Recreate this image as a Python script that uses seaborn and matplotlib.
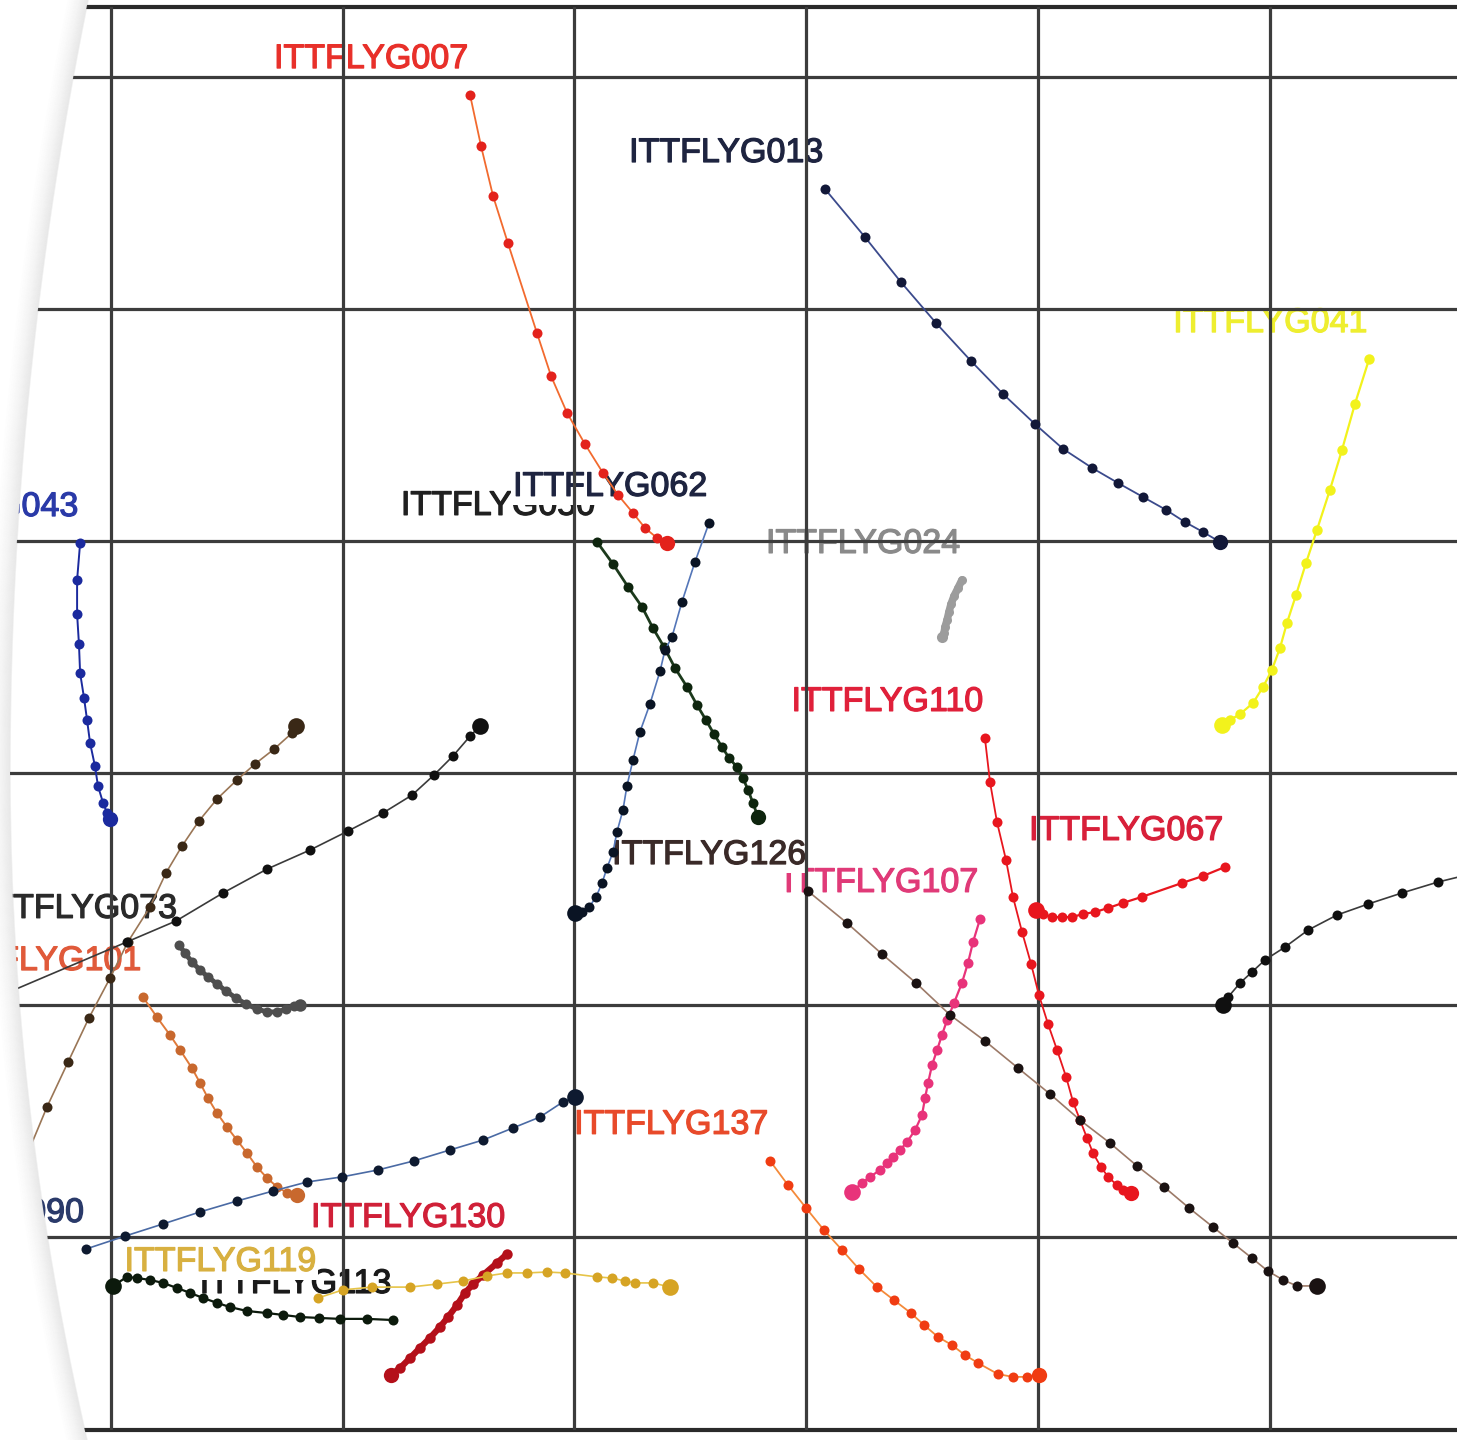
import numpy as np
import pandas as pd
import matplotlib
matplotlib.use("Agg")
import matplotlib.pyplot as plt
import matplotlib.patheffects as pe
from matplotlib.patches import Polygon
from matplotlib.lines import Line2D
import seaborn as sns

sns.set_theme(style="white")
plt.rcParams["font.family"] = ["Liberation Sans", "DejaVu Sans"]

# Drifter positions in grid-cell units (x eastward, y southward from the first grid row)
g007_x = [1.550, 1.597, 1.649, 1.713, 1.838, 1.899, 1.968, 2.045, 2.123, 2.188, 2.252, 2.304, 2.356, 2.399]
g007_y = [0.078, 0.297, 0.513, 0.716, 1.103, 1.289, 1.448, 1.582, 1.707, 1.802, 1.879, 1.944, 1.987, 2.009]

g013_x = [3.080, 3.252, 3.407, 3.558, 3.709, 3.847, 3.985, 4.106, 4.231, 4.343, 4.450, 4.550, 4.631, 4.709, 4.782]
g013_y = [0.483, 0.690, 0.884, 1.060, 1.224, 1.366, 1.496, 1.603, 1.685, 1.750, 1.810, 1.866, 1.918, 1.961, 2.004]

g041_x = [5.425, 5.364, 5.308, 5.256, 5.200, 5.153, 5.110, 5.071, 5.041, 5.006, 4.968, 4.925, 4.869, 4.825, 4.791]
g041_y = [1.216, 1.409, 1.608, 1.780, 1.953, 2.095, 2.233, 2.353, 2.461, 2.556, 2.629, 2.698, 2.746, 2.772, 2.793]

g043_x = [-0.131, -0.144, -0.144, -0.136, -0.131, -0.114, -0.101, -0.088, -0.067, -0.054, -0.032, -0.015, -0.002]
g043_y = [2.009, 2.168, 2.315, 2.444, 2.569, 2.677, 2.772, 2.871, 2.970, 3.056, 3.129, 3.172, 3.198]

g050_x = [2.097, 2.166, 2.231, 2.291, 2.338, 2.386, 2.433, 2.485, 2.528, 2.567, 2.601, 2.636, 2.666, 2.700, 2.726, 2.748, 2.769, 2.791]
g050_y = [2.004, 2.099, 2.198, 2.284, 2.375, 2.457, 2.547, 2.629, 2.707, 2.772, 2.832, 2.888, 2.935, 2.974, 3.022, 3.073, 3.129, 3.190]

g062_x = [2.580, 2.519, 2.463, 2.420, 2.390, 2.369, 2.325, 2.282, 2.252, 2.226, 2.209, 2.183, 2.166, 2.140, 2.119, 2.093, 2.063, 2.032, 2.002]
g062_y = [1.922, 2.091, 2.263, 2.414, 2.470, 2.560, 2.703, 2.823, 2.944, 3.056, 3.159, 3.254, 3.341, 3.409, 3.474, 3.534, 3.578, 3.599, 3.603]

g024_x = [3.670, 3.653, 3.636, 3.623, 3.614, 3.606, 3.597, 3.593, 3.584]
g024_y = [2.168, 2.203, 2.237, 2.272, 2.306, 2.341, 2.371, 2.397, 2.414]

g110_x = [3.769, 3.791, 3.821, 3.860, 3.890, 3.929, 3.968, 4.002, 4.041, 4.080, 4.119, 4.149, 4.179, 4.209, 4.235, 4.269, 4.300, 4.338, 4.364, 4.399]
g110_y = [2.849, 3.039, 3.211, 3.375, 3.534, 3.685, 3.823, 3.957, 4.082, 4.194, 4.310, 4.418, 4.496, 4.573, 4.638, 4.698, 4.741, 4.776, 4.797, 4.810]

g067_x = [4.804, 4.709, 4.619, 4.446, 4.364, 4.300, 4.244, 4.192, 4.144, 4.101, 4.058, 4.019, 3.989]
g067_y = [3.405, 3.444, 3.474, 3.534, 3.560, 3.582, 3.599, 3.608, 3.621, 3.621, 3.621, 3.608, 3.591]

g107_x = [3.748, 3.718, 3.696, 3.670, 3.636, 3.606, 3.584, 3.563, 3.541, 3.524, 3.511, 3.498, 3.468, 3.433, 3.403, 3.373, 3.347, 3.317, 3.274, 3.239, 3.196]
g107_y = [3.629, 3.728, 3.819, 3.905, 3.991, 4.065, 4.129, 4.194, 4.259, 4.336, 4.401, 4.474, 4.539, 4.591, 4.625, 4.655, 4.681, 4.711, 4.741, 4.767, 4.806]

g126_x = [3.006, 3.175, 3.325, 3.472, 3.619, 3.769, 3.912, 4.050, 4.179, 4.308, 4.425, 4.541, 4.649, 4.752, 4.838, 4.920, 4.989, 5.054, 5.114, 5.200]
g126_y = [3.509, 3.647, 3.780, 3.905, 4.043, 4.155, 4.272, 4.384, 4.496, 4.595, 4.694, 4.784, 4.875, 4.957, 5.026, 5.091, 5.147, 5.185, 5.211, 5.211]

g073_x = [0.295, 0.321, 0.351, 0.386, 0.420, 0.459, 0.498, 0.541, 0.584, 0.631, 0.675, 0.718, 0.756, 0.791, 0.817]
g073_y = [3.741, 3.776, 3.815, 3.849, 3.879, 3.909, 3.940, 3.970, 3.996, 4.017, 4.030, 4.030, 4.017, 4.004, 4.000]

g101_x = [0.140, 0.200, 0.256, 0.300, 0.351, 0.386, 0.420, 0.459, 0.502, 0.545, 0.588, 0.631, 0.675, 0.718, 0.761, 0.804]
g101_y = [3.966, 4.052, 4.129, 4.194, 4.272, 4.336, 4.401, 4.466, 4.526, 4.582, 4.638, 4.698, 4.746, 4.784, 4.810, 4.819]

g090_x = [-0.106, 0.063, 0.226, 0.386, 0.545, 0.700, 0.847, 0.998, 1.153, 1.308, 1.463, 1.606, 1.735, 1.851, 1.950, 2.002]
g090_y = [5.052, 4.996, 4.944, 4.892, 4.845, 4.802, 4.763, 4.741, 4.711, 4.672, 4.625, 4.582, 4.530, 4.483, 4.418, 4.397]

g130_x = [1.709, 1.666, 1.606, 1.563, 1.528, 1.494, 1.455, 1.420, 1.377, 1.334, 1.291, 1.248, 1.209]
g130_y = [5.073, 5.112, 5.164, 5.203, 5.241, 5.293, 5.345, 5.388, 5.435, 5.478, 5.522, 5.565, 5.595]

g119_x = [0.894, 1.002, 1.127, 1.291, 1.407, 1.519, 1.623, 1.709, 1.795, 1.881, 1.959, 2.097, 2.162, 2.218, 2.261, 2.338, 2.412]
g119_y = [5.263, 5.228, 5.216, 5.216, 5.203, 5.190, 5.168, 5.155, 5.155, 5.151, 5.155, 5.172, 5.177, 5.190, 5.198, 5.198, 5.216]

g113_x = [1.218, 1.106, 0.989, 0.899, 0.817, 0.744, 0.675, 0.588, 0.515, 0.459, 0.399, 0.343, 0.287, 0.226, 0.170, 0.114, 0.071, 0.011]
g113_y = [5.358, 5.353, 5.353, 5.349, 5.345, 5.336, 5.328, 5.319, 5.302, 5.284, 5.263, 5.241, 5.220, 5.198, 5.185, 5.177, 5.172, 5.211]

g137_x = [2.843, 2.920, 2.998, 3.075, 3.153, 3.226, 3.304, 3.377, 3.450, 3.506, 3.567, 3.627, 3.683, 3.739, 3.825, 3.890, 3.950, 4.002]
g137_y = [4.672, 4.776, 4.875, 4.970, 5.056, 5.138, 5.216, 5.272, 5.328, 5.379, 5.431, 5.466, 5.509, 5.543, 5.591, 5.603, 5.603, 5.595]

# Tracks whose names fall outside the sheet
trackA_x = [-0.369, -0.274, -0.183, -0.093, -0.002, 0.075, 0.170, 0.239, 0.308, 0.381, 0.459, 0.545, 0.623, 0.705, 0.782, 0.800]
trackA_y = [4.668, 4.440, 4.246, 4.056, 3.884, 3.728, 3.578, 3.431, 3.315, 3.207, 3.112, 3.030, 2.961, 2.897, 2.828, 2.797]

trackB_x = [-0.498, 0.071, 0.282, 0.485, 0.675, 0.860, 1.024, 1.175, 1.300, 1.394, 1.476, 1.550, 1.593]
trackB_y = [3.970, 3.728, 3.638, 3.517, 3.414, 3.332, 3.250, 3.172, 3.095, 3.009, 2.927, 2.841, 2.797]

trackC_x = [5.881, 5.722, 5.567, 5.420, 5.287, 5.162, 5.063, 4.976, 4.920, 4.869, 4.817, 4.795]
trackC_y = [3.431, 3.470, 3.517, 3.565, 3.612, 3.677, 3.750, 3.806, 3.858, 3.905, 3.966, 4.000]

tracks = [
    ("ITTFLYG007", g007_x, g007_y),
    ("ITTFLYG013", g013_x, g013_y),
    ("ITTFLYG041", g041_x, g041_y),
    ("ITTFLYG043", g043_x, g043_y),
    ("ITTFLYG050", g050_x, g050_y),
    ("ITTFLYG062", g062_x, g062_y),
    ("ITTFLYG024", g024_x, g024_y),
    ("ITTFLYG110", g110_x, g110_y),
    ("ITTFLYG067", g067_x, g067_y),
    ("ITTFLYG107", g107_x, g107_y),
    ("ITTFLYG126", g126_x, g126_y),
    ("ITTFLYG101", g101_x, g101_y),
    ("ITTFLYG073", g073_x, g073_y),
    ("ITTFLYG090", g090_x, g090_y),
    ("ITTFLYG137", g137_x, g137_y),
    ("ITTFLYG130", g130_x, g130_y),
    ("ITTFLYG113", g113_x, g113_y),
    ("ITTFLYG119", g119_x, g119_y),
    ("track_a", trackA_x, trackA_y),
    ("track_b", trackB_x, trackB_y),
    ("track_c", trackC_x, trackC_y),
]

# dot colour, line colour, line width, dot size, end-dot size
STYLE = {
    "ITTFLYG007": ("#e3221c", "#f26a2e", 1.3, 7.2, 11),
    "ITTFLYG013": ("#121838", "#3b4a8c", 1.3, 7.2, 11),
    "ITTFLYG041": ("#f2f21c", "#f2f21c", 1.6, 7.5, 12),
    "ITTFLYG043": ("#1b2a9e", "#1b2a9e", 1.4, 7.2, 11),
    "ITTFLYG050": ("#0e250e", "#1c3a1c", 2.0, 7.2, 11),
    "ITTFLYG062": ("#0a1424", "#5476b8", 1.2, 7.2, 12),
    "ITTFLYG024": ("#9c9c9c", "#9c9c9c", 5.5, 6.5, 8),
    "ITTFLYG110": ("#e8161e", "#e8161e", 1.3, 7.2, 11),
    "ITTFLYG067": ("#e8161e", "#e8161e", 1.6, 7.2, 12),
    "ITTFLYG107": ("#e8337a", "#e8337a", 1.6, 7.2, 12),
    "ITTFLYG126": ("#1a1212", "#9c7a68", 1.2, 7.2, 12),
    "ITTFLYG101": ("#c8682e", "#e07a3a", 1.4, 7.2, 11),
    "ITTFLYG073": ("#4e4e4e", "#4e4e4e", 3.5, 7.2, 9),
    "ITTFLYG090": ("#0e1a30", "#4a6aa4", 1.2, 7.2, 12),
    "ITTFLYG137": ("#f03c12", "#f48a3a", 1.3, 7.2, 11),
    "ITTFLYG130": ("#b4101a", "#b4101a", 4.5, 7.5, 11),
    "ITTFLYG113": ("#0c1a0c", "#0c1a0c", 1.6, 7.2, 12),
    "ITTFLYG119": ("#d6a424", "#e6c448", 1.2, 7.2, 12),
    "track_a": ("#3a2816", "#9a7656", 1.2, 7.2, 12),
    "track_b": ("#101010", "#3a3a3a", 1.2, 7.2, 12),
    "track_c": ("#101010", "#3a3a3a", 1.2, 7.2, 12),
}

LABEL_COLOR = {
    "ITTFLYG007": "#e8302a", "ITTFLYG013": "#1e2440", "ITTFLYG041": "#eeee30",
    "ITTFLYG043": "#2a3aa8", "ITTFLYG050": "#202020", "ITTFLYG062": "#1e2440",
    "ITTFLYG024": "#8a8a8a", "ITTFLYG110": "#e0203a", "ITTFLYG067": "#d8203a",
    "ITTFLYG107": "#e03a78", "ITTFLYG126": "#3a2a28", "ITTFLYG101": "#e05a3a",
    "ITTFLYG073": "#2a2a2a", "ITTFLYG090": "#2a3a6a", "ITTFLYG137": "#e84a2a",
    "ITTFLYG130": "#d02038", "ITTFLYG113": "#1a1a1a", "ITTFLYG119": "#d8b040",
}

frames = [pd.DataFrame({"track": n, "step": range(len(x)), "x": x, "y": y}) for n, x, y in tracks]
df = pd.concat(frames, ignore_index=True)

W, H = 1457, 1440
fig = plt.figure(figsize=(W / 100, H / 100), dpi=100)
fig.patch.set_facecolor("white")
ax = fig.add_axes([0, 10 / H, 1, 1423.5 / H])
ax.set_facecolor("white")

for i, (name, _, _) in enumerate(tracks):
    d = df[df["track"] == name]
    dot, line, lw, ms, end = STYLE[name]
    z = 3 + 0.01 * i
    sns.lineplot(data=d, x="x", y="y", sort=False, estimator=None, color=line,
                 lw=lw, ax=ax, zorder=z, legend=False)
    sns.scatterplot(data=d.iloc[:-1], x="x", y="y", color=dot, s=ms ** 2,
                    linewidth=0, ax=ax, zorder=z + 0.001, legend=False)
    sns.scatterplot(data=d.iloc[-1:], x="x", y="y", color=dot, s=end ** 2,
                    linewidth=0, ax=ax, zorder=z + 0.002, legend=False)
    if name in LABEL_COLOR:
        col = LABEL_COLOR[name]
        ax.annotate(name, xy=(d["x"].iloc[0], d["y"].iloc[0]), xytext=(-1.5, 19.5),
                    textcoords="offset points", ha="right", va="baseline",
                    fontsize=24.5, color=col,
                    bbox=dict(boxstyle="square,pad=0.05", fc="white", ec="none"),
                    path_effects=[pe.withStroke(linewidth=0.9, foreground=col)],
                    zorder=2 + 0.01 * i, annotation_clip=False)

ax.set_xlim(-0.4763, 5.8039)
ax.set_ylim(5.832, -0.304)
ax.set_xticks(range(6))
ax.set_yticks(range(6))
ax.tick_params(length=0, labelbottom=False, labelleft=False)
ax.set_xlabel("")
ax.set_ylabel("")
ax.grid(True, color="#3c3c3c", lw=2.3)
ax.set_axisbelow(False)
for side in ("left", "right"):
    ax.spines[side].set_visible(False)
for side in ("top", "bottom"):
    ax.spines[side].set_color("#2a2a2a")
    ax.spines[side].set_linewidth(3.0)

# curled page edge on the left side of the sheet, with its soft shading
yy = np.linspace(0, H, 400)
edge = np.where(yy < 770, 10 + 1.316e-4 * (770 - yy) ** 2, 10 + 1.715e-4 * (yy - 770) ** 2)
pts = [(0, 0)] + list(zip(edge, yy)) + [(0, H)]
pts = [(px / W, 1 - py / H) for px, py in pts]
fig.add_artist(Polygon(pts, closed=True, fc="white", ec="none",
                       transform=fig.transFigure, zorder=20))
n_shade = 22
for k in range(n_shade):
    fig.add_artist(Line2D((edge - k) / W, 1 - yy / H, color="#8a8a8a",
                          alpha=0.13 * (1 - k / n_shade) ** 1.5, lw=1.1,
                          transform=fig.transFigure, zorder=21))

fig.savefig("out.png", dpi=100)
